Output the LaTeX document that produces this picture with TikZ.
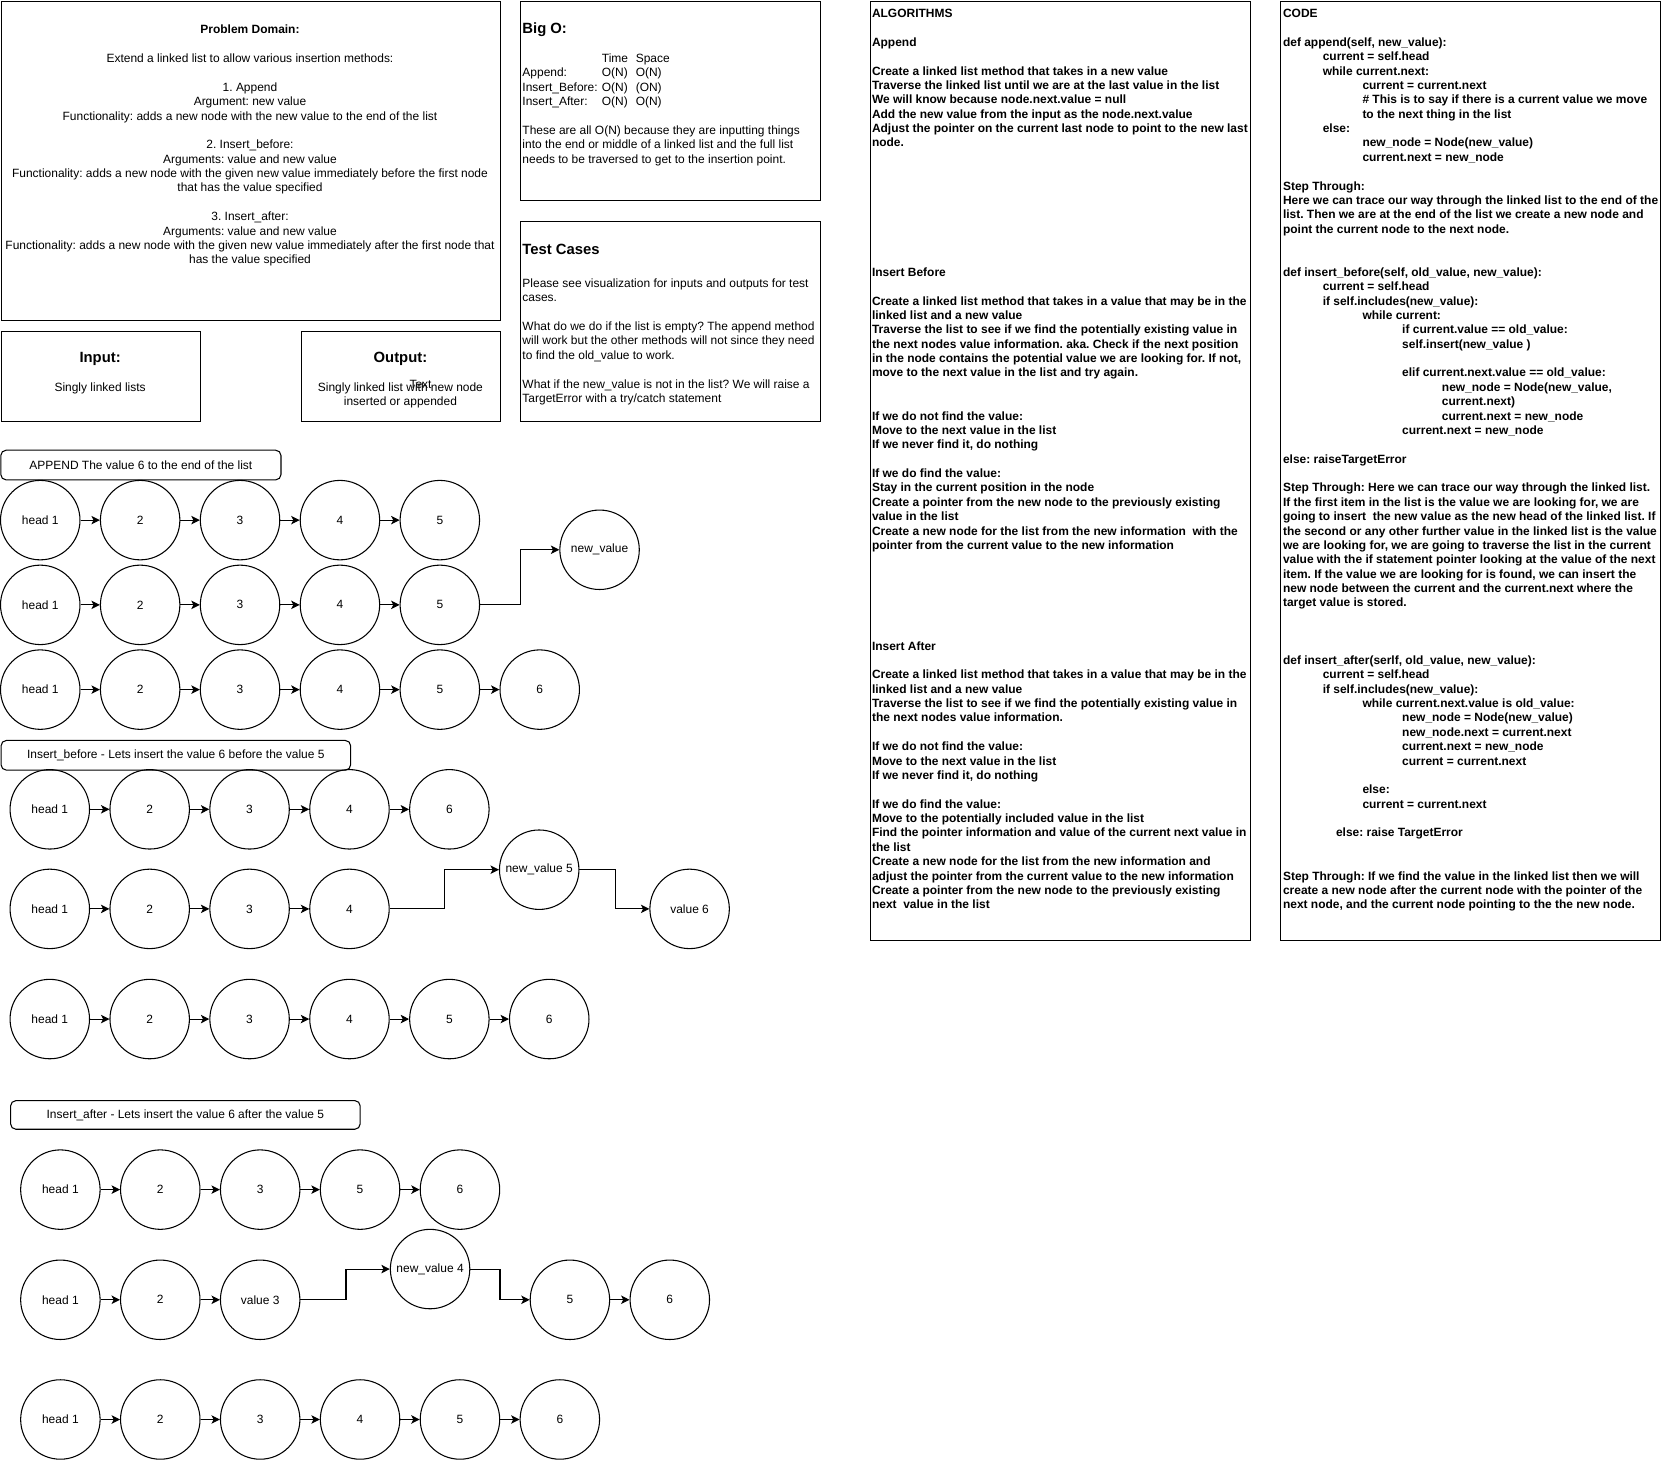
\documentclass[tikz,border=0pt]{standalone}
\usepackage{fontspec}
\setmainfont{Liberation Sans}
\usetikzlibrary{positioning,arrows.meta}
\frenchspacing
\newcommand{\emptyrow}{~\\}
\newcommand{\ilvl}{\hspace*{37.5pt}}
\newcommand{\bigrow}[3]{\makebox[75pt][l]{#1}\makebox[32pt][l]{#2}#3}

\begin{document}
\begin{tikzpicture}[x=1pt, y=-1pt,
        every node/.style={font=\fontsize{11.3}{13.57}\selectfont, inner sep=0pt},
        panel/.style={draw, line width=1pt, anchor=north west},
        heading/.style={font=\fontsize{14}{16}\selectfont\bfseries},
        boldtext/.style={font=\fontsize{11.3}{13.57}\selectfont\bfseries, align=left, anchor=north west},
        llnode/.style={circle, draw, line width=1pt, minimum size=75pt, inner sep=1pt},
        banner/.style={draw, rounded corners=5pt, line width=1pt},
        link/.style={->, line width=1pt},
        node distance=18.3pt,
        >={Stealth[length=8pt, width=8pt, inset=2pt]},
    ]
    \useasboundingbox (0,0) rectangle (1568,1380);

    % boxes
    \node[panel, minimum width=471.5pt, minimum height=301.5pt] (domain) at (0.5,0.5) {};
    \node[panel, minimum width=283pt, minimum height=188.5pt] (bigo) at (491,0.5) {};
    \node[panel, minimum width=283pt, minimum height=188pt] (tests) at (491,209) {};
    \node[panel, minimum width=188.5pt, minimum height=85pt] (input) at (0.5,312) {};
    \node[panel, minimum width=188pt, minimum height=85pt] (output) at (284,312) {};
    \node[panel, minimum width=359pt, minimum height=886.5pt] (algo) at (821,0.5) {};
    \node[panel, minimum width=359pt, minimum height=886.5pt] (code) at (1208,0.5) {};

    \node[anchor=north, align=center] (domaintext) at (236,23.5) {\textbf{Problem Domain:}\\ \emptyrow
        Extend a linked list to allow various insertion methods:\\ \emptyrow
        1. Append\\ Argument: new value\\
        Functionality: adds a new node with the new value to the end of the list\\ \emptyrow
        2. Insert\_before:\\ Arguments: value and new value\\
        Functionality: adds a new node with the given new value immediately before the first node\\
        that has the value specified\\ \emptyrow
        3. Insert\_after:\\ Arguments: value and new value\\
        Functionality: adds a new node with the given new value immediately after the first node that\\
        has the value specified};

    \node[heading, anchor=north west] (bigotitle) at (493,21.5) {Big O:};
    \node[anchor=north west, align=left] (bigotext) at (493,50.5) {\bigrow{}{Time}{Space}\\
        \bigrow{Append:}{O(N)}{O(N)}\\
        \bigrow{Insert\_Before:}{O(N)}{(ON)}\\
        \bigrow{Insert\_After:}{O(N)}{O(N)}\\ \emptyrow
        These are all O(N) because they are inputting things\\
        into the end or middle of a linked list and the full list\\
        needs to be traversed to get to the insertion point.};

    \node[heading, anchor=north west] (teststitle) at (493,230.5) {Test Cases};
    \node[anchor=north west, align=left] (teststext) at (493,263) {Please see visualization for inputs and outputs for test\\
        cases.\\ \emptyrow
        What do we do if the list is empty? The append method\\
        will work but the other methods will not since they need\\
        to find the old\_value to work.\\ \emptyrow
        What if the new\_value is not in the list? We will raise a\\
        TargetError with a try/catch statement};

    \node[heading] (inputtitle) at (94.5,339) {Input:};
    \node (inputtext) at (94.5,367) {Singly linked lists};
    \node[heading] (outputtitle) at (378,339) {Output:};
    \node[align=center] (outputtext) at (378,373.5) {Singly linked list with new node\\ inserted or appended};
    \node (stray) at (397,363) {Text};

    \node[boldtext] (algotext) at (823,8.5) {ALGORITHMS\\ \emptyrow
        Append\\ \emptyrow
        Create a linked list method that takes in a new value\\
        Traverse the linked list until we are at the last value in the list\\
        We will know because node.next.value = null\\
        Add the new value from the input as the node.next.value\\
        Adjust the pointer on the current last node to point to the new last\\
        node.\\ \emptyrow \emptyrow \emptyrow \emptyrow \emptyrow \emptyrow \emptyrow \emptyrow
        Insert Before\\ \emptyrow
        Create a linked list method that takes in a value that may be in the\\
        linked list and a new value\\
        Traverse the list to see if we find the potentially existing value in\\
        the next nodes value information. aka. Check if the next position\\
        in the node contains the potential value we are looking for. If not,\\
        move to the next value in the list and try again.\\ \emptyrow \emptyrow
        If we do not find the value:\\
        Move to the next value in the list\\
        If we never find it, do nothing\\ \emptyrow
        If we do find the value:\\
        Stay in the current position in the node\\
        Create a pointer from the new node to the previously existing\\
        value in the list\\
        Create a new node for the list from the new information~ with the\\
        pointer from the current value to the new information\\
        \emptyrow \emptyrow \emptyrow \emptyrow \emptyrow \emptyrow
        Insert After\\ \emptyrow
        Create a linked list method that takes in a value that may be in the\\
        linked list and a new value\\
        Traverse the list to see if we find the potentially existing value in\\
        the next nodes value information.\\ \emptyrow
        If we do not find the value:\\
        Move to the next value in the list\\
        If we never find it, do nothing\\ \emptyrow
        If we do find the value:\\
        Move to the potentially included value in the list\\
        Find the pointer information and value of the current next value in\\
        the list\\
        Create a new node for the list from the new information and\\
        adjust the pointer from the current value to the new information\\
        Create a pointer from the new node to the previously existing\\
        next~ value in the list};

    \node[boldtext] (codetext) at (1211,8.5) {CODE\\ \emptyrow
        def append(self, new\_value):\\
        \ilvl current = self.head\\
        \ilvl while current.next:\\
        \ilvl\ilvl current = current.next\\
        \ilvl\ilvl \# This is to say if there is a current value we move\\
        \ilvl\ilvl to the next thing in the list\\
        \ilvl else:\\
        \ilvl\ilvl new\_node = Node(new\_value)\\
        \ilvl\ilvl current.next = new\_node\\ \emptyrow
        Step Through:\\
        Here we can trace our way through the linked list to the end of the\\
        list. Then we are at the end of the list we create a new node and\\
        point the current node to the next node.\\ \emptyrow \emptyrow
        def insert\_before(self, old\_value, new\_value):\\
        \ilvl current = self.head\\
        \ilvl if self.includes(new\_value):\\
        \ilvl\ilvl while current:\\
        \ilvl\ilvl\ilvl if current.value == old\_value:\\
        \ilvl\ilvl\ilvl self.insert(new\_value )\\ \emptyrow
        \ilvl\ilvl\ilvl elif current.next.value == old\_value:\\
        \ilvl\ilvl\ilvl\ilvl new\_node = Node(new\_value,\\
        \ilvl\ilvl\ilvl\ilvl current.next)\\
        \ilvl\ilvl\ilvl\ilvl current.next = new\_node\\
        \ilvl\ilvl\ilvl current.next = new\_node\\ \emptyrow
        else: raiseTargetError\\ \emptyrow
        Step Through: Here we can trace our way through the linked list.\\
        If the first item in the list is the value we are looking for, we are\\
        going to insert~ the new value as the new head of the linked list. If\\
        the second or any other further value in the linked list is the value\\
        we are looking for, we are going to traverse the list in the current\\
        value with the if statement pointer looking at the value of the next\\
        item. If the value we are looking for is found, we can insert the\\
        new node between the current and the current.next where the\\
        target value is stored.\\ \emptyrow \emptyrow \emptyrow
        def insert\_after(serlf, old\_value, new\_value):\\
        \ilvl current = self.head\\
        \ilvl if self.includes(new\_value):\\
        \ilvl\ilvl while current.next.value is old\_value:\\
        \ilvl\ilvl\ilvl new\_node = Node(new\_value)\\
        \ilvl\ilvl\ilvl new\_node.next = current.next\\
        \ilvl\ilvl\ilvl current.next = new\_node\\
        \ilvl\ilvl\ilvl current = current.next\\ \emptyrow
        \ilvl\ilvl else:\\
        \ilvl\ilvl current = current.next\\ \emptyrow
        \hspace*{50pt}else: raise TargetError\\ \emptyrow \emptyrow
        Step Through: If we find the value in the linked list then we will\\
        create a new node after the current node with the pointer of the\\
        next node, and the current node pointing to the the new node.};

    % append
    \node[banner, minimum width=264.5pt, minimum height=28pt] (appendbanner) at (133,439) {APPEND The value 6 to the end of the list};
    \node[llnode] (a1) at (38,491) {head 1};
    \node[llnode, right=of a1] (a2) {2};
    \node[llnode, right=of a2] (a3) {3};
    \node[llnode, right=of a3] (a4) {4};
    \node[llnode, right=of a4] (a5) {5};
    \draw[link] (a1) -- (a2);
    \draw[link] (a2) -- (a3);
    \draw[link] (a3) -- (a4);
    \draw[link] (a4) -- (a5);

    \node[llnode] (b1) at (38,571) {head 1};
    \node[llnode, right=of b1] (b2) {2};
    \node[llnode, right=of b2] (b3) {3};
    \node[llnode, right=of b3] (b4) {4};
    \node[llnode, right=of b4] (b5) {5};
    \node[llnode] (bnew) at (566,519) {new\_value};
    \draw[link] (b1) -- (b2);
    \draw[link] (b2) -- (b3);
    \draw[link] (b3) -- (b4);
    \draw[link] (b4) -- (b5);
    \draw[link] (b5.east) -- ++(38,0) |- (bnew);

    \node[llnode] (c1) at (38,651) {head 1};
    \node[llnode, right=of c1] (c2) {2};
    \node[llnode, right=of c2] (c3) {3};
    \node[llnode, right=of c3] (c4) {4};
    \node[llnode, right=of c4] (c5) {5};
    \node[llnode, right=of c5] (c6) {6};
    \draw[link] (c1) -- (c2);
    \draw[link] (c2) -- (c3);
    \draw[link] (c3) -- (c4);
    \draw[link] (c4) -- (c5);
    \draw[link] (c5) -- (c6);

    % insert before
    \node[banner, minimum width=330pt, minimum height=28pt] (beforebanner) at (166,713) {Insert\_before - Lets insert the value 6 before the value 5};
    \node[llnode] (d1) at (47,764) {head 1};
    \node[llnode, right=of d1] (d2) {2};
    \node[llnode, right=of d2] (d3) {3};
    \node[llnode, right=of d3] (d4) {4};
    \node[llnode, right=of d4] (d5) {6};
    \draw[link] (d1) -- (d2);
    \draw[link] (d2) -- (d3);
    \draw[link] (d3) -- (d4);
    \draw[link] (d4) -- (d5);

    \node[llnode] (e1) at (47,858) {head 1};
    \node[llnode, right=of e1] (e2) {2};
    \node[llnode, right=of e2] (e3) {3};
    \node[llnode, right=of e3] (e4) {4};
    \node[llnode] (enew) at (509,821) {new\_value 5};
    \node[llnode] (esix) at (651,858) {value 6};
    \draw[link] (e1) -- (e2);
    \draw[link] (e2) -- (e3);
    \draw[link] (e3) -- (e4);
    \draw[link] (e4.east) -- ++(52,0) |- (enew);
    \draw[link] (enew.east) -- ++(34,0) |- (esix);

    \node[llnode] (f1) at (47,962) {head 1};
    \node[llnode, right=of f1] (f2) {2};
    \node[llnode, right=of f2] (f3) {3};
    \node[llnode, right=of f3] (f4) {4};
    \node[llnode, right=of f4] (f5) {5};
    \node[llnode, right=of f5] (f6) {6};
    \draw[link] (f1) -- (f2);
    \draw[link] (f2) -- (f3);
    \draw[link] (f3) -- (f4);
    \draw[link] (f4) -- (f5);
    \draw[link] (f5) -- (f6);

    % insert after
    \node[banner, minimum width=330pt, minimum height=27pt] (afterbanner) at (175,1052.5) {Insert\_after - Lets insert the value 6 after the value 5};
    \node[llnode] (g1) at (57,1123) {head 1};
    \node[llnode, right=of g1] (g2) {2};
    \node[llnode, right=of g2] (g3) {3};
    \node[llnode, right=of g3] (g4) {5};
    \node[llnode, right=of g4] (g5) {6};
    \draw[link] (g1) -- (g2);
    \draw[link] (g2) -- (g3);
    \draw[link] (g3) -- (g4);
    \draw[link] (g4) -- (g5);

    \node[llnode] (h1) at (57,1227) {head 1};
    \node[llnode, right=of h1] (h2) {2};
    \node[llnode, right=of h2] (h3) {value 3};
    \node[llnode] (hnew) at (406,1198) {new\_value 4};
    \node[llnode] (h5) at (538,1227) {5};
    \node[llnode, right=of h5] (h6) {6};
    \draw[link] (h1) -- (h2);
    \draw[link] (h2) -- (h3);
    \draw[link] (h3.east) -- ++(43,0) |- (hnew);
    \draw[link] (hnew.east) -- ++(28,0) |- (h5);
    \draw[link] (h5) -- (h6);

    \node[llnode] (k1) at (57,1340) {head 1};
    \node[llnode, right=of k1] (k2) {2};
    \node[llnode, right=of k2] (k3) {3};
    \node[llnode, right=of k3] (k4) {4};
    \node[llnode, right=of k4] (k5) {5};
    \node[llnode, right=of k5] (k6) {6};
    \draw[link] (k1) -- (k2);
    \draw[link] (k2) -- (k3);
    \draw[link] (k3) -- (k4);
    \draw[link] (k4) -- (k5);
    \draw[link] (k5) -- (k6);
\end{tikzpicture}
\end{document}
